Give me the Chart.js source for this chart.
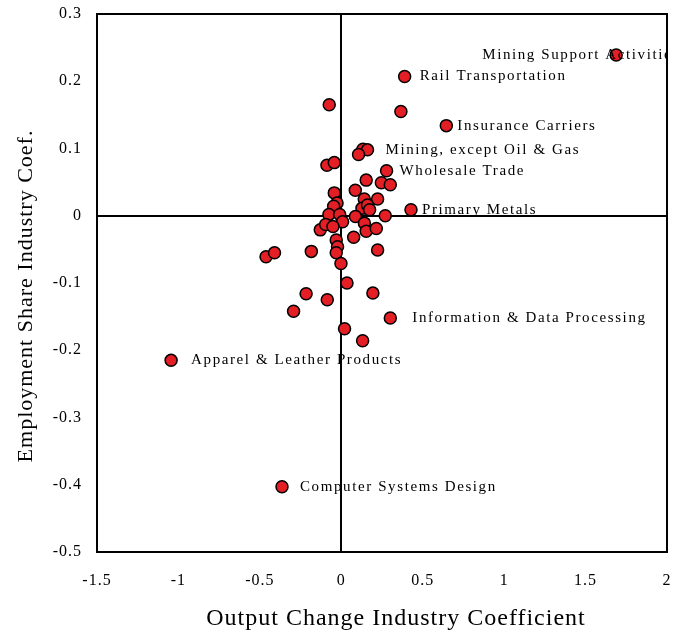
<!DOCTYPE html>
<html>
<head>
<meta charset="utf-8">
<script src="https://cdn.jsdelivr.net/npm/chart.js@4/dist/chart.umd.min.js"></script>
<style>
html,body{margin:0;padding:0;background:#fff;}
#wrap{width:677px;height:635px;}
</style>
</head>
<body>
<div id="wrap"><canvas id="c" width="677" height="635"></canvas></div>
<script>
// Data
const xValues = [1.688, 0.389, -0.074, 0.366, 0.645, 0.133, 0.161, 0.106, -0.088, -0.043,
  0.278, 0.246, 0.301, 0.153, 0.086, -0.043, 0.223, 0.141, -0.026, -0.047,
  0.127, 0.161, 0.174, 0.428, -0.076, -0.010, 0.087, 0.270, 0.008, 0.142,
  -0.129, -0.096, -0.051, 0.153, 0.215, 0.076, -0.031, -0.023, -0.031, -0.184,
  0.223, -0.002, 0.035, -0.216, -0.086, 0.194, -0.293, 0.301, 0.020, 0.131,
  -0.462, -0.410, -1.045, -0.364];
const yValues = [0.239, 0.207, 0.165, 0.155, 0.134, 0.099, 0.098, 0.091, 0.075, 0.079,
  0.067, 0.049, 0.046, 0.053, 0.038, 0.034, 0.025, 0.025, 0.019, 0.014,
  0.011, 0.016, 0.009, 0.009, 0.002, 0.002, -0.001, 0.000, -0.009, -0.011,
  -0.021, -0.013, -0.016, -0.023, -0.019, -0.032, -0.036, -0.046, -0.055, -0.053,
  -0.051, -0.071, -0.100, -0.116, -0.125, -0.115, -0.142, -0.152, -0.168, -0.186,
  -0.061, -0.055, -0.215, -0.403];
const pointLabels = ['Mining Support Activities', 'Rail Transportation', '', '', 'Insurance Carriers', '', 'Mining, except Oil & Gas', '', '', '',
  'Wholesale Trade', '', '', '', '', '', '', '', '', '',
  '', '', '', 'Primary Metals', '', '', '', '', '', '',
  '', '', '', '', '', '', '', '', '', '',
  '', '', '', '', '', '', '', 'Information & Data Processing', '', '',
  '', '', 'Apparel & Leather Products', 'Computer Systems Design'];
const xTickLabels = ['-1.5', '-1', '-0.5', '0', '0.5', '1', '1.5', '2'];
const yTickLabels = ['-0.5', '-0.4', '-0.3', '-0.2', '-0.1', '0', '0.1', '0.2', '0.3'];
const xTitle = 'Output Change Industry Coefficient';
const yTitle = 'Employment Share Industry Coef.';

// label placement (pixel offsets from the point, typography only)
const labelDx = {
  'Mining Support Activities': -134,
  'Rail Transportation': 15,
  'Insurance Carriers': 11,
  'Mining, except Oil & Gas': 18,
  'Wholesale Trade': 13,
  'Primary Metals': 11,
  'Information & Data Processing': 22,
  'Apparel & Leather Products': 20,
  'Computer Systems Design': 18
};
const defaultLabelDx = 15;

const FONT = "'Liberation Serif', 'Times New Roman', serif";

const points = xValues.map((x, i) => ({x: x, y: yValues[i]}));

const spacingPlugin = {
  id: 'spacing',
  beforeDraw(chart) { chart.ctx.letterSpacing = '1px'; }
};

const boxPlugin = {
  id: 'box',
  beforeDatasetsDraw(chart) {
    const a = chart.chartArea, ctx = chart.ctx;
    ctx.save();
    ctx.strokeStyle = '#000';
    ctx.lineWidth = 2;
    ctx.strokeRect(a.left, a.top, a.right - a.left, a.bottom - a.top);
    ctx.restore();
  }
};

const labelPlugin = {
  id: 'pointLabels',
  afterDatasetsDraw(chart) {
    const ctx = chart.ctx, a = chart.chartArea;
    const meta = chart.getDatasetMeta(0);
    ctx.save();
    ctx.beginPath();
    ctx.rect(a.left, a.top, a.right - a.left, a.bottom - a.top);
    ctx.clip();
    ctx.font = '15px ' + FONT;
    ctx.letterSpacing = '1.6px';
    ctx.fillStyle = '#000';
    ctx.textBaseline = 'middle';
    ctx.textAlign = 'left';
    pointLabels.forEach((lab, i) => {
      if (!lab) return;
      const el = meta.data[i];
      const dx = (lab in labelDx) ? labelDx[lab] : defaultLabelDx;
      ctx.fillText(lab, el.x + dx, el.y);
    });
    ctx.restore();
  }
};

const zeroLine = (c) => (c.tick && Math.abs(c.tick.value) < 1e-9) ? '#000' : 'rgba(0,0,0,0)';
const noPad = (s) => { s.paddingTop = 0; s.paddingBottom = 0; s.paddingLeft = 0; s.paddingRight = 0; };

new Chart(document.getElementById('c'), {
  type: 'scatter',
  data: {
    datasets: [{
      data: points,
      backgroundColor: '#E31E24',
      borderColor: '#000',
      borderWidth: 1.5,
      pointRadius: 6,
      pointHoverRadius: 6
    }]
  },
  options: {
    responsive: false,
    animation: false,
    events: [],
    layout: {padding: {top: 14, right: 10, left: 0, bottom: 0}},
    plugins: {legend: {display: false}, tooltip: {enabled: false}},
    scales: {
      x: {
        type: 'linear', min: -1.5, max: 2,
        afterFit(s) { s.height = 83; noPad(s); },
        border: {display: false},
        grid: {color: zeroLine, lineWidth: 2, drawTicks: false},
        ticks: {
          stepSize: 0.5, padding: 19, color: '#000',
          font: {family: FONT, size: 16},
          maxRotation: 0,
          callback: (v, i) => xTickLabels[i]
        },
        title: {display: true, text: '    ' + xTitle, color: '#000',
          font: {family: FONT, size: 24}, padding: {top: 0, bottom: 2}}
      },
      y: {
        type: 'linear', min: -0.5, max: 0.3,
        afterFit(s) { s.width = 97; noPad(s); },
        border: {display: false},
        grid: {color: zeroLine, lineWidth: 2, drawTicks: false},
        ticks: {
          stepSize: 0.1, padding: 15, color: '#000',
          font: {family: FONT, size: 16},
          callback: (v, i) => yTickLabels[i]
        },
        title: {display: true, text: yTitle + '    ', color: '#000',
          font: {family: FONT, size: 22}, padding: {top: 13, bottom: 0}}
      }
    }
  },
  plugins: [spacingPlugin, boxPlugin, labelPlugin]
});
</script>
</body>
</html>
